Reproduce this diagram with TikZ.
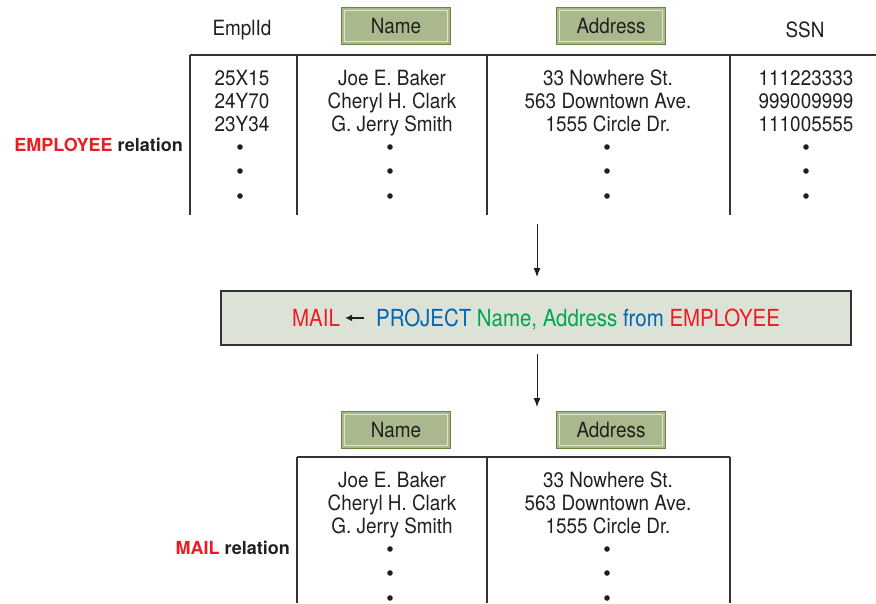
\documentclass[tikz,border=0pt]{standalone}
\usepackage{fontspec}
\setmainfont{TeX Gyre Heros}[FakeStretch=0.9]
\newfontfamily\titlefont{TeX Gyre Heros}[FakeStretch=0.87]
\newfontfamily\relfont{TeX Gyre Heros}
\usetikzlibrary{arrows.meta}
\definecolor{ink}{RGB}{35,31,32}
\definecolor{rred}{RGB}{237,28,36}
\definecolor{bblue}{RGB}{0,102,179}
\definecolor{ggreen}{RGB}{0,166,81}
\definecolor{boxfill}{RGB}{220,226,214}
\definecolor{hdrfill}{RGB}{169,185,141}
\definecolor{hdrline}{RGB}{104,134,64}
\definecolor{hdrinner}{RGB}{222,230,206}
\definecolor{rulec}{RGB}{51,51,51}
\begin{document}
\begin{tikzpicture}[x=1pt,y=-1pt,
  every node/.style={text=ink,inner sep=0pt},
  body/.style={anchor=north,align=center,font=\fontsize{21}{23}\selectfont},
  hdr/.style={draw=hdrline,line width=1.2pt,fill=hdrfill,minimum width=109pt,minimum height=37pt,font=\fontsize{21}{23}\selectfont},
  plainhdr/.style={font=\fontsize{21}{23}\selectfont},
  rel/.style={anchor=base east,font=\relfont\fontsize{18}{20}\selectfont\bfseries},
  rulel/.style={draw=rulec,line width=2pt},
  flow/.style={draw=ink,line width=0.9pt,-{Latex[length=9pt,width=7pt]}},
  dotc/.style={fill=ink}]
\useasboundingbox (0,0) rectangle (876,603);

% ---------- EMPLOYEE relation ----------
\node[plainhdr] (hEmp) at (242,30) {EmplId};
\node[hdr] (hName) at (396,26) {Name};
\node[hdr] (hAddr) at (611,26) {Address};
\node[plainhdr] (hSSN) at (805,30) {SSN};
\foreach \n in {hName,hAddr}
  \draw[hdrinner,line width=1pt] ([shift={(4pt,4pt)}]\n.south west) rectangle ([shift={(-4pt,-4pt)}]\n.north east);

\draw[rulel] (190,55) -- (876,55);
\foreach \x in {190,297,487,730}
  \draw[rulel] (\x,55) -- (\x,215);

\node[body] (c1) at (242,69.5) {\strut 25X15\\\strut 24Y70\\\strut 23Y34};
\node[body] (c2) at (392,69.5) {\strut Joe E. Baker\\\strut Cheryl H. Clark\\\strut G. Jerry Smith};
\node[body] (c3) at (608,69.5) {\strut 33 Nowhere St.\\\strut 563 Downtown Ave.\\\strut 1555 Circle Dr.};
\node[body] (c4) at (806,69.5) {\strut 111223333\\\strut 999009999\\\strut 111005555};
\foreach \x in {240,390,607,806}
  \foreach \y in {147,171,196}
    \fill[dotc] (\x,\y) circle (2.8pt);

\node[rel] (empRel) at (183,151) {\textcolor{rred}{EMPLOYEE} relation};

% ---------- arrow 1 ----------
\coordinate (a1s) at (537,224);
\coordinate (a1e) at (537,277);
\draw[flow] (a1s) -- (a1e);

% ---------- operation box ----------
\node[draw=rulec,fill=boxfill,line width=1.5pt,minimum width=630pt,minimum height=54pt] (op) at (536,318) {};
\node[font=\titlefont\fontsize{23.5}{26}\selectfont,text=rred,anchor=base west] (mail) at (292,326.5) {MAIL};
\node[font=\titlefont\fontsize{23.5}{26}\selectfont,anchor=base west] (proj) at (376,326.5)
  {\textcolor{bblue}{PROJECT} \textcolor{ggreen}{Name, Address} \textcolor{bblue}{from} \textcolor{rred}{EMPLOYEE}};
\draw[draw=ink,line width=1.2pt,-{Latex[length=7pt,width=7pt]},shorten >=5pt,shorten <=12pt] (proj.west |- mail.east) -- (mail.east);

% ---------- arrow 2 ----------
\coordinate (a2s) at (537,354);
\coordinate (a2e) at (537,407);
\draw[flow] (a2s) -- (a2e);

% ---------- MAIL relation ----------
\node[hdr] (mName) at (396,430) {Name};
\node[hdr] (mAddr) at (611,430) {Address};
\foreach \n in {mName,mAddr}
  \draw[hdrinner,line width=1pt] ([shift={(4pt,4pt)}]\n.south west) rectangle ([shift={(-4pt,-4pt)}]\n.north east);

\draw[rulel] (297,457) -- (730,457);
\foreach \x in {297,487,730}
  \draw[rulel] (\x,457) -- (\x,603);

\node[body] (m2) at (392,471.5) {\strut Joe E. Baker\\\strut Cheryl H. Clark\\\strut G. Jerry Smith};
\node[body] (m3) at (608,471.5) {\strut 33 Nowhere St.\\\strut 563 Downtown Ave.\\\strut 1555 Circle Dr.};
\foreach \x in {390,607}
  \foreach \y in {549,573,598}
    \fill[dotc] (\x,\y) circle (2.8pt);

\node[rel] (mailRel) at (290,554) {\textcolor{rred}{MAIL} relation};
\end{tikzpicture}
\end{document}
